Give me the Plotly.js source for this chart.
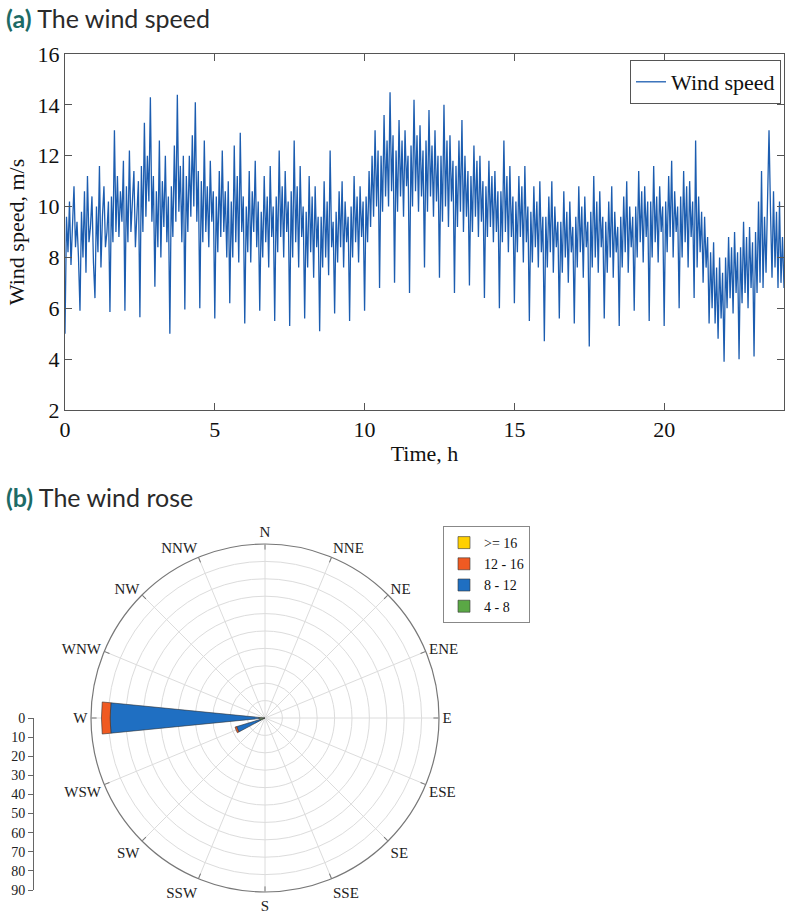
<!DOCTYPE html>
<html>
<head>
<meta charset="utf-8">
<script src="https://cdn.plot.ly/plotly-3.0.1.min.js"></script>
<style>html,body{margin:0;padding:0;background:#fff;}#chart{width:786px;height:921px;}</style>
</head>
<body>
<div id="chart"></div>
<script>
// ---- (a) wind speed time series: samples every 0.05 h ----
const sampleStepHours = 0.05;
const speed = [
  5.0, 9.6, 8.2, 10.2, 7.7, 9.0, 10.8, 8.4, 9.4, 8.0,
  5.9, 9.8, 8.0, 10.6, 7.4, 11.2, 8.6, 9.2, 10.4, 7.8,
  6.4, 10.0, 8.2, 11.6, 7.6, 9.6, 10.8, 8.4, 9.0, 10.2,
  5.85, 10.4, 8.6, 13.0, 9.0, 11.2, 8.8, 10.6, 9.4, 11.8,
  5.9, 10.8, 8.6, 12.2, 9.0, 10.2, 11.4, 8.4, 10.0, 11.0,
  5.65, 11.6, 9.0, 13.3, 9.6, 12.0, 10.2, 14.3, 9.4, 11.2,
  6.85, 10.6, 8.4, 12.6, 8.0, 11.0, 9.2, 12.0, 8.6, 10.4,
  5.0, 10.8, 8.8, 12.4, 9.4, 14.4, 9.8, 11.6, 8.6, 12.0,
  5.95, 11.2, 9.0, 12.0, 9.6, 12.8, 10.0, 14.1, 9.4, 11.4,
  6.0, 11.0, 8.6, 12.6, 9.0, 10.8, 8.4, 11.8, 9.4, 10.6,
  5.6, 10.4, 8.2, 11.4, 8.8, 12.2, 9.0, 10.6, 8.0, 11.0,
  6.2, 10.2, 8.0, 12.4, 8.6, 11.2, 7.8, 12.9, 9.0, 10.4,
  5.4, 10.0, 8.2, 11.4, 7.8, 10.6, 9.0, 11.8, 8.4, 10.2,
  5.9, 9.8, 8.0, 11.2, 8.6, 10.4, 7.6, 11.6, 8.8, 10.0,
  5.5, 10.4, 8.2, 12.2, 8.8, 10.8, 8.0, 11.4, 9.0, 10.2,
  5.3, 10.6, 8.0, 12.6, 8.6, 10.8, 7.6, 11.6, 8.8, 10.0,
  5.6, 9.8, 7.6, 11.2, 8.2, 10.4, 7.2, 10.8, 8.4, 9.6,
  5.1, 9.6, 7.6, 11.0, 8.0, 10.2, 7.3, 12.2, 8.4, 9.4,
  5.8, 9.8, 7.8, 10.6, 8.4, 11.0, 7.6, 10.2, 8.6, 9.6,
  5.5, 10.0, 8.0, 11.2, 8.6, 10.4, 7.8, 10.8, 8.8, 10.2,
  5.9, 10.4, 8.6, 11.4, 9.2, 12.0, 9.6, 13.0, 10.0, 12.2,
  6.8, 12.0, 9.8, 13.6, 10.4, 12.6, 10.0, 14.5, 10.6, 12.8,
  7.0, 12.2, 9.8, 13.4, 10.4, 12.6, 9.6, 13.0, 10.8, 12.0,
  6.6, 12.4, 10.0, 14.2, 10.6, 12.8, 9.8, 13.2, 10.4, 12.2,
  7.6, 12.6, 9.8, 13.8, 10.4, 12.4, 9.6, 13.0, 10.2, 12.0,
  7.2, 12.0, 9.4, 14.0, 10.0, 12.6, 9.2, 12.8, 10.2, 11.8,
  6.6, 11.6, 9.2, 12.6, 9.8, 13.4, 9.0, 12.0, 9.6, 11.4,
  6.9, 11.2, 9.0, 12.4, 9.6, 11.8, 8.8, 12.0, 9.4, 11.0,
  6.4, 10.8, 8.8, 11.8, 9.2, 11.2, 8.6, 11.4, 9.0, 10.6,
  6.0, 10.6, 8.6, 12.6, 9.0, 11.2, 8.2, 11.6, 8.8, 10.4,
  6.2, 10.2, 8.2, 11.2, 8.8, 10.8, 7.8, 11.6, 8.6, 10.0,
  5.5, 9.8, 7.8, 10.8, 8.4, 10.2, 7.6, 11.0, 8.2, 9.6,
  4.7, 9.6, 7.6, 10.4, 8.2, 11.0, 7.4, 10.0, 8.4, 9.4,
  5.6, 9.4, 7.4, 10.6, 8.0, 9.8, 7.0, 10.2, 8.2, 9.2,
  5.4, 9.6, 7.6, 10.8, 8.2, 10.0, 7.2, 10.4, 8.4, 9.4,
  4.5, 9.8, 7.6, 11.2, 8.0, 10.2, 7.4, 10.6, 8.4, 9.6,
  5.6, 9.4, 7.4, 10.2, 8.0, 10.8, 7.2, 9.8, 8.2, 9.2,
  5.3, 9.6, 7.6, 10.4, 8.2, 11.0, 7.4, 10.0, 8.4, 9.6,
  5.9, 10.0, 8.0, 11.4, 8.6, 10.6, 7.8, 10.8, 8.8, 10.2,
  5.5, 10.2, 8.0, 11.6, 8.6, 10.4, 7.8, 10.8, 9.0, 10.0,
  5.3, 10.2, 8.2, 11.2, 8.8, 11.8, 8.0, 10.6, 9.0, 10.0,
  6.0, 10.4, 8.0, 11.4, 8.6, 10.8, 7.6, 11.0, 8.8, 10.2,
  6.4, 12.6, 7.6, 10.4, 8.2, 9.8, 7.0, 9.6, 7.6, 8.8,
  5.4, 8.2, 6.0, 8.6, 5.4, 7.6, 4.8, 8.0, 5.6, 7.4,
  3.9, 8.0, 6.0, 8.8, 6.4, 8.4, 5.8, 9.0, 6.6, 8.2,
  4.0, 8.4, 6.2, 9.4, 6.6, 8.8, 6.0, 9.2, 6.8, 8.6,
  4.1, 9.0, 6.6, 10.2, 7.0, 11.4, 6.8, 9.6, 7.4, 10.4,
  13.0, 9.8, 7.2, 10.6, 7.6, 9.8, 6.8, 10.2, 7.0, 8.8,
  6.8
];
const timeTicks = [0, 5, 10, 15, 20];
const speedTicks = [2, 4, 6, 8, 10, 12, 14, 16];

// ---- (b) wind rose ----
const directions = ['N','NNE','NE','ENE','E','ESE','SE','SSE','S','SSW','SW','WSW','W','WNW','NW','NNW'];
const directionAngles = [0,22.5,45,67.5,90,112.5,135,157.5,180,202.5,225,247.5,270,292.5,315,337.5];
const binLabels = ['4 - 8', '8 - 12', '12 - 16', '>= 16'];
const binColors = ['#5aa845', '#1f6fc2', '#f05a22', '#ffd000'];
// frequency per direction, each bin (order of directions above)
const freq4to8   = [0,0,0,0,0,0,0,0,0,0,0,3,3.5,0,0,0];
const freq8to12  = [0,0,0,0,0,0,0,0,0,0,0,14,85.5,0,0,0];
const freq12to16 = [0,0,0,0,0,0,0,0,0,0,0,1,5,0,0,0];
const freq16up   = [0,0,0,0,0,0,0,0,0,0,0,0,0,0,0,0];
const roseScaleTicks = [0,10,20,30,40,50,60,70,80,90];

const time = speed.map((_, i) => +(i * sampleStepHours).toFixed(2));
const W = 786, H = 921;
const px = v => v / W, py = v => 1 - v / H;
const serif = 'Liberation Serif';

const traces = [{
  type: 'scatter', mode: 'lines', x: time, y: speed, name: 'Wind speed', showlegend: true,
  line: {color: '#1c5db0', width: 1.3}, xaxis: 'x', yaxis: 'y', legend: 'legend'
}];
const roseSets = [freq4to8, freq8to12, freq12to16, freq16up];
roseSets.forEach((r, k) => {
  traces.push({
    type: 'barpolar', r: r, theta: directionAngles, width: 11.25,
    name: binLabels[k], marker: {color: binColors[k], line: {color: '#333', width: 0.6}},
    subplot: 'polar', legend: 'legend2'
  });
});
traces.push({type: 'scatter', x: [], y: [], xaxis: 'x2', yaxis: 'y2', showlegend: false});

const layout = {
  width: W, height: H, margin: {l: 0, r: 0, t: 0, b: 0},
  paper_bgcolor: '#fff', plot_bgcolor: '#fff', showlegend: true,
  font: {family: serif, color: '#111'},
  xaxis: {
    domain: [px(65), px(784)], range: [0, 24], tickvals: timeTicks,
    ticks: 'inside', ticklen: 7, tickcolor: '#555', showline: true, linecolor: '#555', linewidth: 1,
    mirror: 'ticks', showgrid: false, zeroline: false,
    tickfont: {size: 22, family: serif, color: '#111'},
    title: {text: 'Time, h', font: {size: 22, family: serif, color: '#111'}, standoff: 4}
  },
  yaxis: {
    domain: [py(410), py(54)], range: [2, 16], tickvals: speedTicks,
    ticks: 'inside', ticklen: 7, tickcolor: '#555', showline: true, linecolor: '#555', linewidth: 1,
    mirror: 'ticks', showgrid: false, zeroline: false,
    tickfont: {size: 22, family: serif, color: '#111'},
    title: {text: 'Wind speed, m/s', font: {size: 22, family: serif, color: '#111'}, standoff: 6}
  },
  xaxis2: {domain: [px(34), px(35)], range: [0, 1], visible: false, anchor: 'y2'},
  yaxis2: {
    domain: [py(890), py(718)], range: [90, 0], tickvals: roseScaleTicks, anchor: 'x2',
    showline: true, linecolor: '#666', ticks: 'outside', ticklen: 5, tickcolor: '#666',
    showgrid: false, zeroline: false, tickfont: {size: 14, family: serif, color: '#222'}
  },
  polar: {
    domain: {x: [px(91), px(439)], y: [py(892), py(544)]},
    bgcolor: '#fff', barmode: 'stack',
    angularaxis: {
      rotation: 90, direction: 'clockwise', tickvals: directionAngles, ticktext: directions,
      ticks: 'inside', ticklen: 5, tickcolor: '#777', linecolor: '#777', linewidth: 1.2,
      gridcolor: '#dcdcdc', tickfont: {size: 15, family: serif, color: '#222'}
    },
    radialaxis: {
      range: [0, 100], dtick: 10, showticklabels: false, ticks: '', showline: false,
      gridcolor: '#dcdcdc'
    }
  },
  legend: {
    x: px(781), y: py(60), xanchor: 'right', yanchor: 'top',
    bgcolor: '#fff', bordercolor: '#555', borderwidth: 1,
    font: {size: 22, family: serif, color: '#111'}
  },
  legend2: {
    x: px(443), y: py(526), xanchor: 'left', yanchor: 'top', traceorder: 'reversed',
    bgcolor: '#fff', bordercolor: '#888', borderwidth: 1, tracegroupgap: 0,
    font: {size: 14, family: serif, color: '#111'}
  },
  annotations: [
    {xref: 'paper', yref: 'paper', x: px(4), y: py(18), xanchor: 'left', yanchor: 'middle', showarrow: false,
     text: '<b><span style="color:#1d6b66">(a)</span></b> The wind speed',
     font: {size: 25, family: 'Lato', color: '#2a2a2a'}},
    {xref: 'paper', yref: 'paper', x: px(4), y: py(497), xanchor: 'left', yanchor: 'middle', showarrow: false,
     text: '<b><span style="color:#1d6b66">(b)</span></b> The wind rose',
     font: {size: 25, family: 'Lato', color: '#2a2a2a'}}
  ]
};

Plotly.newPlot('chart', traces, layout, {displayModeBar: false, staticPlot: true});
</script>
</body>
</html>
